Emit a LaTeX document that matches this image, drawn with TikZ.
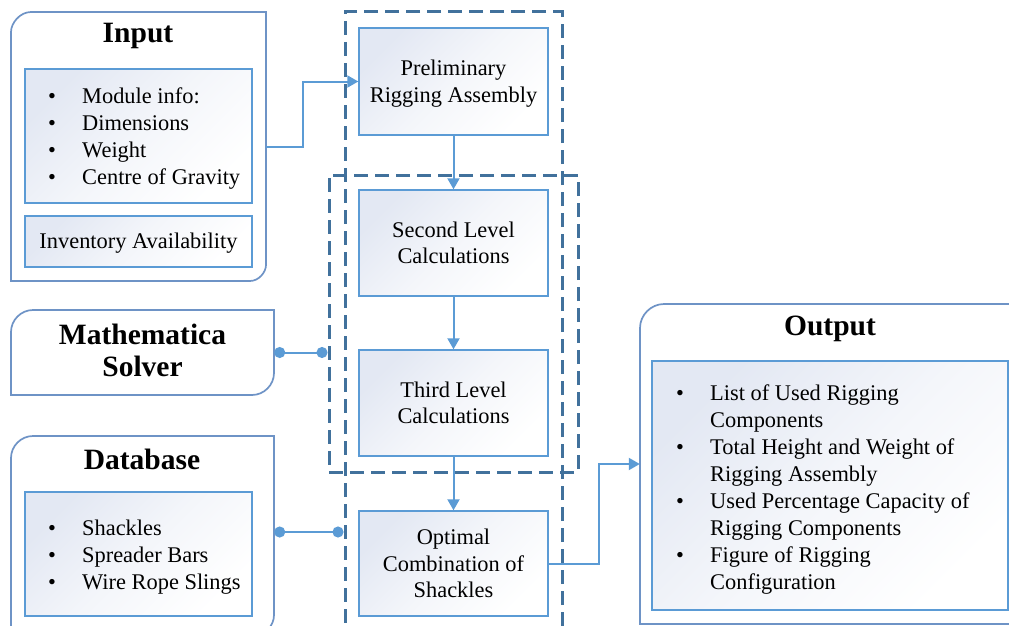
\documentclass[tikz,border=0pt]{standalone}
\usepackage{fontspec}
\setmainfont{Liberation Serif}
\usetikzlibrary{arrows.meta,calc}
\definecolor{boxline}{HTML}{6E93C6}
\definecolor{innerline}{HTML}{5B9BD5}
\definecolor{dashc}{HTML}{41719C}
\definecolor{connc}{HTML}{5B9BD5}
\definecolor{gradA}{HTML}{E3E8F3}
\begin{document}
\begin{tikzpicture}[x=1pt,y=-1pt,
 bodytxt/.style={font=\fontsize{22.4}{26.5}\selectfont},
 listtxt/.style={font=\fontsize{22.4}{27}\selectfont, inner sep=0pt, anchor=base west},
 headtxt/.style={font=\fontsize{29.5}{32}\selectfont\bfseries, align=center},
 panel/.style={draw=innerline, line width=1.4pt, top color=gradA, bottom color=white, middle color=white!60!gradA, shading angle=45, inner sep=0pt},
 proc/.style={panel, minimum width=189pt, align=center, bodytxt},
 roundbox/.style={draw=boxline, line width=1.7pt},
 grp/.style={draw=dashc, line width=3pt, dash pattern=on 14pt off 7pt, inner sep=0pt},
 flow/.style={draw=connc, line width=2pt, -{Triangle[length=11pt,width=12pt]}},
 link/.style={draw=connc, line width=2pt, {Circle[length=11pt]}-{Circle[length=11pt]}},
 ghost/.style={inner sep=0pt, draw=none},
]
\useasboundingbox (0,0) rectangle (1009,626);
\clip (0,0) rectangle (1009,626);

% ---------- outer rounded boxes ----------
\draw[roundbox] (266,12) -- (31,12) .. controls (20,12) and (11,23) .. (11,32) -- (11,281) -- (250,281) .. controls (259,281) and (266,272) .. (266,265) -- cycle;
\node[ghost, minimum width=255pt, minimum height=269pt] (input) at (138.5,146.5) {};
\node[headtxt] (inputtitle) at (138,36) {Input};

\draw[roundbox] (274,310) -- (33,310) .. controls (21,310) and (11,320) .. (11,332) -- (11,395) -- (252,395) .. controls (264,395) and (274,385) .. (274,373) -- cycle;
\node[ghost, minimum width=263pt, minimum height=85pt] (math) at (142.5,352.5) {};
\node[headtxt] (mathtitle) at (142.5,350) {Mathematica\\Solver};

\draw[roundbox] (11,650) -- (11,458) .. controls (11,446) and (21,436) .. (33,436) -- (274,436) -- (274,615) .. controls (274,626) and (265,635) .. (254,635);
\node[ghost, minimum width=263pt, minimum height=192pt] (db) at (142.5,532) {};
\node[headtxt] (dbtitle) at (142,459) {Database};

\draw[roundbox] (1020,304) -- (664,304) .. controls (651,304) and (640,315) .. (640,328) -- (640,624) -- (1020,624);
\node[ghost, minimum width=375pt, minimum height=320pt] (output) at (827.5,464) {};
\node[headtxt] (outtitle) at (830,329) {Output};

% ---------- inner panels ----------
\node[panel, minimum width=227pt, minimum height=134pt] (inlist) at (138.5,136) {};
\node[listtxt] (inlisttxt) at (48,103) {\begin{tabular}[t]{@{}p{34pt}@{}l@{}}
\textbullet & Module info:\\
\textbullet & Dimensions\\
\textbullet & Weight\\
\textbullet & Centre of Gravity
\end{tabular}};
\node[panel, minimum width=227pt, minimum height=51pt] (inv) at (138.5,241.5) {};
\node[bodytxt] (invtxt) at (138.5,243) {Inventory Availability};

\node[panel, minimum width=227pt, minimum height=124pt] (dblist) at (138.5,554) {};
\node[listtxt] (dblisttxt) at (48,535) {\begin{tabular}[t]{@{}p{34pt}@{}l@{}}
\textbullet & Shackles\\
\textbullet & Spreader Bars\\
\textbullet & Wire Rope Slings
\end{tabular}};

\node[panel, minimum width=356pt, minimum height=249pt] (outlist) at (830,485.5) {};
\node[listtxt] (outlisttxt) at (676,400) {\begin{tabular}[t]{@{}p{34pt}@{}l@{}}
\textbullet & List of Used Rigging\\
 & Components\\
\textbullet & Total Height and Weight of\\
 & Rigging Assembly\\
\textbullet & Used Percentage Capacity of\\
 & Rigging Components\\
\textbullet & Figure of Rigging\\
 & Configuration
\end{tabular}};

% ---------- process boxes ----------
\node[proc, minimum height=107pt] (prelim) at (453.5,81.5) {};
\node[bodytxt, align=center] (prelimtxt) at (453.5,83.5) {Preliminary\\Rigging Assembly};
\node[proc, minimum height=106pt] (second) at (453.5,243) {Second Level\\Calculations};
\node[proc, minimum height=106pt] (third) at (453.5,403) {Third Level\\Calculations};
\node[proc, minimum height=105pt] (opt) at (453.5,563.5) {Optimal\\Combination of\\Shackles};

% ---------- dashed groups ----------
\node[grp, minimum width=217pt, minimum height=628pt] (grp1) at (453.5,326) {};
\node[grp, minimum width=249pt, minimum height=297pt] (grp2) at (453.5,323.5) {};

% ---------- connectors ----------
\draw[flow] (input.east) -- ++(37,0) |- (prelim.west);
\draw[flow] (prelim.south) -- (second.north);
\draw[flow] (second.south) -- (third.north);
\draw[flow] (third.south) -- (opt.north);
\draw[flow] (opt.east) -- ++(50,0) |- (output.west);
\draw[link] (math.east) -- (math.east -| grp2.west);
\draw[link] (db.east) -- (db.east -| grp1.west);
\end{tikzpicture}
\end{document}
